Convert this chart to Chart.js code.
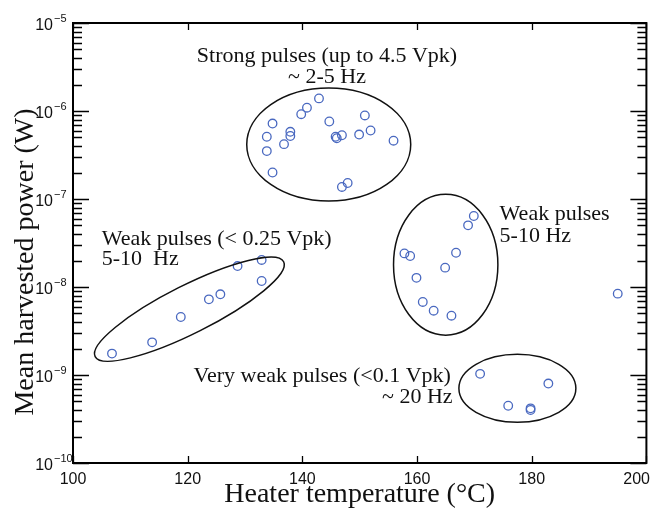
<!DOCTYPE html>
<html>
<head>
<meta charset="utf-8">
<script src="https://cdn.jsdelivr.net/npm/chart.js@4"></script>
<style>
  html, body { margin: 0; padding: 0; background: #fff; }
  #wrap { width: 652px; height: 510px; }
</style>
</head>
<body>
<div id="wrap"><canvas id="chart" width="652" height="510"></canvas></div>
<script>
// Heater temperature (°C) vs mean harvested power (W), grouped by pulse regime
const strongTemp = [134.8, 133.8, 133.8, 134.8, 136.8, 137.9, 137.9, 139.8, 140.8, 142.9,
                    144.7, 145.8, 146.0, 146.9, 149.9, 150.9, 151.9, 155.9, 146.9, 147.9];
const strongPower = [7.2e-7, 5.1e-7, 3.5e-7, 2.0e-7, 4.2e-7, 5.8e-7, 5.2e-7, 9.2e-7, 1.09e-6, 1.39e-6,
                     7.6e-7, 5.1e-7, 4.9e-7, 5.3e-7, 5.4e-7, 8.9e-7, 6.0e-7, 4.6e-7, 1.37e-7, 1.52e-7];

const weakLowTemp = [106.8, 113.8, 118.8, 123.7, 125.7, 128.7, 132.9, 132.9];
const weakLowPower = [1.75e-9, 2.35e-9, 4.56e-9, 7.24e-9, 8.26e-9, 1.73e-8, 2.03e-8, 1.17e-8];

const weakHighTemp = [157.8, 158.8, 166.8, 164.9, 159.9, 161.0, 162.9, 166.0, 169.9, 168.9];
const weakHighPower = [2.41e-8, 2.25e-8, 2.45e-8, 1.66e-8, 1.27e-8, 6.76e-9, 5.38e-9, 4.72e-9, 6.41e-8, 5.02e-8];

const veryWeakTemp = [171.0, 182.9, 175.9, 179.8, 179.8, 195.0];
const veryWeakPower = [1.03e-9, 8.0e-10, 4.47e-10, 4.18e-10, 4.0e-10, 8.4e-9];

const xTicks = [100, 120, 140, 160, 180, 200];
const yExponents = [-10, -9, -8, -7, -6, -5];

// group outlines: centre (°C, W), half-width in °C, half-height in decades, tilt in degrees
const groupOutlines = [
  { x: 144.6, y: 4.16e-7, rx: 14.3, ry: 0.642, tilt: 0 },
  { x: 120.3, y: 5.6e-9, rx: 18.4, ry: 0.273, tilt: -26.7 },
  { x: 165.0, y: 1.79e-8, rx: 9.1, ry: 0.80, tilt: 0 },
  { x: 177.5, y: 7.06e-10, rx: 10.2, ry: 0.386, tilt: 0 }
];

const groupLabels = [
  { x: 144.3, y: 3.6e-6, text: 'Strong pulses (up to 4.5 Vpk)', align: 'center' },
  { x: 144.3, y: 2.08e-6, text: '~ 2-5 Hz', align: 'center' },
  { x: 105.0, y: 3.0e-8, text: 'Weak pulses (< 0.25 Vpk)', align: 'left' },
  { x: 105.0, y: 1.78e-8, text: '5-10  Hz', align: 'left' },
  { x: 174.4, y: 5.77e-8, text: 'Weak pulses', align: 'left' },
  { x: 174.4, y: 3.27e-8, text: '5-10 Hz', align: 'left' },
  { x: 165.9, y: 8.4e-10, text: 'Very weak pulses (<0.1 Vpk)', align: 'right' },
  { x: 166.2, y: 4.8e-10, text: '~ 20 Hz', align: 'right' }
];

const markerColor = '#4a69c0';
const toPoints = (xs, ys) => xs.map((x, i) => ({ x: x, y: ys[i] }));

function makeSet(label, xs, ys) {
  return {
    label: label,
    data: toPoints(xs, ys),
    showLine: false,
    pointStyle: 'circle',
    pointRadius: 4.3,
    pointBorderWidth: 1.3,
    pointBorderColor: markerColor,
    pointBackgroundColor: 'rgba(0,0,0,0)'
  };
}

const serif = "'Liberation Serif', 'Times New Roman', serif";
const sans = "'Liberation Sans', Arial, sans-serif";

// box, inward ticks, tick labels, titles, outlines and notes
const decorations = {
  id: 'decorations',
  afterDatasetsDraw(chart) {
    const { ctx, chartArea: a, scales, width } = chart;
    const xs = scales.x, ys = scales.y;
    ctx.save();
    ctx.strokeStyle = '#000';
    ctx.fillStyle = '#111';

    // x ticks, top and bottom
    ctx.lineWidth = 1.3;
    ctx.beginPath();
    xTicks.forEach(v => {
      const px = Math.round(xs.getPixelForValue(v)) + 0.5;
      ctx.moveTo(px, a.bottom); ctx.lineTo(px, a.bottom - 7);
      ctx.moveTo(px, a.top); ctx.lineTo(px, a.top + 7);
    });
    // y major and minor ticks, left and right
    yExponents.forEach((e, i) => {
      for (let m = 1; m <= 9; m++) {
        if (i === yExponents.length - 1 && m > 1) break;
        const py = Math.round(ys.getPixelForValue(m * Math.pow(10, e))) + 0.5;
        const len = m === 1 ? 16 : 9;
        ctx.moveTo(a.left, py); ctx.lineTo(a.left + len, py);
        ctx.moveTo(a.right, py); ctx.lineTo(a.right - len, py);
      }
    });
    ctx.stroke();

    // frame
    ctx.lineWidth = 2;
    ctx.strokeRect(a.left, a.top, a.right - a.left, a.bottom - a.top);

    // x tick labels (last one kept inside the canvas)
    ctx.font = '16px ' + sans;
    ctx.textAlign = 'center';
    ctx.textBaseline = 'alphabetic';
    xTicks.forEach(v => {
      const txt = String(v);
      const w = ctx.measureText(txt).width;
      let px = xs.getPixelForValue(v);
      px = Math.min(px, width - 2 - w / 2);
      ctx.fillText(txt, px, a.bottom + 21);
    });

    // y tick labels 10^n
    yExponents.forEach(e => {
      const py = ys.getPixelForValue(Math.pow(10, e));
      ctx.font = '16px ' + sans;
      ctx.textAlign = 'right';
      ctx.fillText('10', 53, py + 7);
      ctx.font = '11px ' + sans;
      ctx.textAlign = 'left';
      ctx.fillText('\u2212' + Math.abs(e), 54, py - 1);
    });

    // axis titles
    ctx.font = '28px ' + serif;
    ctx.textAlign = 'center';
    ctx.fillText('Heater temperature (\u00B0C)', (a.left + a.right) / 2, 502);
    ctx.save();
    ctx.translate(33, 262);
    ctx.rotate(-Math.PI / 2);
    ctx.fillText('Mean harvested power (W)', 0, 0);
    ctx.restore();

    // group outlines
    ctx.lineWidth = 1.5;
    ctx.strokeStyle = '#111';
    groupOutlines.forEach(g => {
      const cx = xs.getPixelForValue(g.x);
      const cy = ys.getPixelForValue(g.y);
      const rxp = xs.getPixelForValue(g.x + g.rx) - cx;
      const ryp = cy - ys.getPixelForValue(g.y * Math.pow(10, g.ry));
      ctx.beginPath();
      ctx.ellipse(cx, cy, rxp, ryp, g.tilt * Math.PI / 180, 0, Math.PI * 2);
      ctx.stroke();
    });

    // group notes
    ctx.font = '22px ' + serif;
    groupLabels.forEach(l => {
      ctx.textAlign = l.align;
      ctx.fillText(l.text, xs.getPixelForValue(l.x), ys.getPixelForValue(l.y));
    });
    ctx.restore();
  }
};

new Chart(document.getElementById('chart').getContext('2d'), {
  type: 'scatter',
  data: {
    datasets: [
      makeSet('Strong pulses', strongTemp, strongPower),
      makeSet('Weak pulses (low T)', weakLowTemp, weakLowPower),
      makeSet('Weak pulses (high T)', weakHighTemp, weakHighPower),
      makeSet('Very weak pulses', veryWeakTemp, veryWeakPower)
    ]
  },
  options: {
    responsive: false,
    devicePixelRatio: 1,
    animation: false,
    layout: { padding: { left: 0, right: 5, top: 23, bottom: 0 } },
    plugins: { legend: { display: false }, tooltip: { enabled: false } },
    scales: {
      x: {
        type: 'linear',
        min: 100, max: 200,
        afterFit: s => { s.height = 47; },
        grid: { display: false, drawTicks: false },
        border: { display: false },
        ticks: { display: false }
      },
      y: {
        type: 'logarithmic',
        min: 1e-10, max: 1e-5,
        afterFit: s => { s.width = 73; },
        grid: { display: false, drawTicks: false },
        border: { display: false },
        ticks: { display: false }
      }
    }
  },
  plugins: [decorations]
});
</script>
</body>
</html>
